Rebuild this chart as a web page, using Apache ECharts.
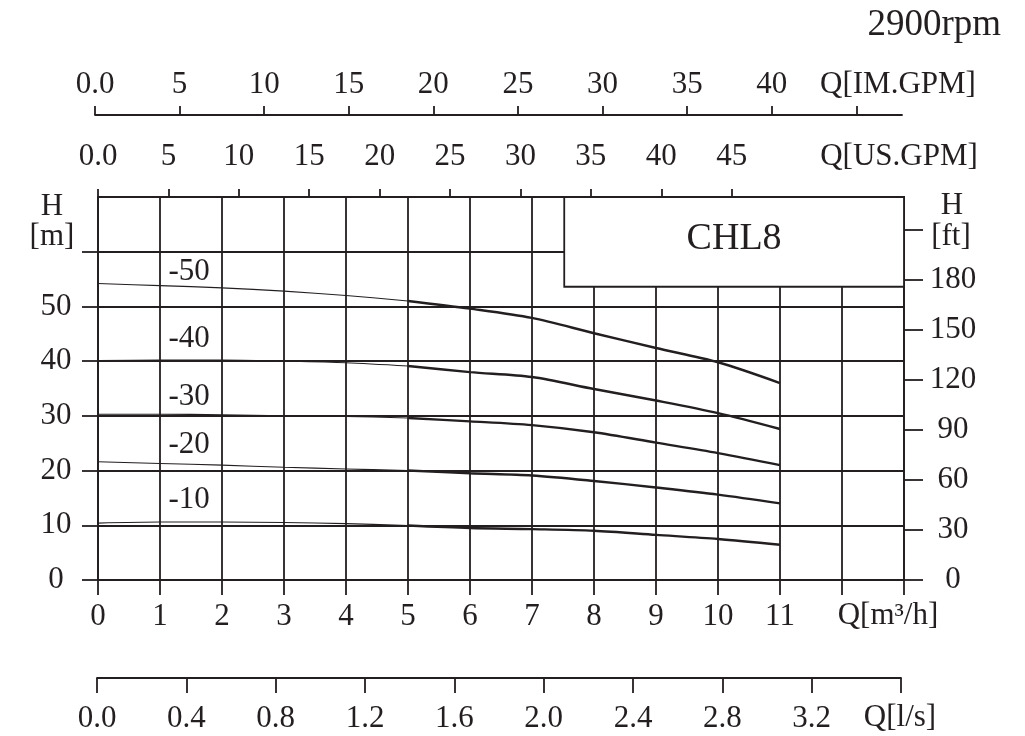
<!DOCTYPE html>
<html><head><meta charset="utf-8">
<script src="https://cdn.jsdelivr.net/npm/echarts@6/dist/echarts.min.js"></script>
<style>html,body{margin:0;padding:0;background:#fff}#c{width:1025px;height:736px}</style>
</head><body><div id="c"></div>
<script>
// ---- data ----
const flow = [0, 1, 2, 3, 4, 5, 6, 7, 8, 9, 10, 11];
const h50 = [54.2, 53.8, 53.4, 52.8, 52.0, 51.0, 49.6, 47.9, 45.1, 42.4, 39.8, 36.0];
const h40 = [40.1, 40.2, 40.2, 40.0, 39.7, 39.1, 38.0, 37.1, 34.9, 32.8, 30.5, 27.6];
const h30 = [30.3, 30.3, 30.2, 30.0, 29.9, 29.6, 29.0, 28.3, 27.0, 25.1, 23.2, 21.0];
const h20 = [21.6, 21.3, 21.0, 20.6, 20.3, 20.0, 19.5, 19.1, 18.1, 16.9, 15.6, 14.0];
const h10 = [10.4, 10.6, 10.6, 10.5, 10.3, 9.95, 9.5, 9.3, 9.0, 8.25, 7.5, 6.45];
const curveNames = ['-50', '-40', '-30', '-20', '-10'];
const curveLabelAt = [[1.47, 56.4], [1.47, 44.1], [1.47, 33.5], [1.47, 24.7], [1.47, 14.6]];
const splitIdx = 5;

const mLabels = [0, 1, 2, 3, 4, 5, 6, 7, 8, 9, 10, 11];
const mTicks = [0, 1, 2, 3, 4, 5, 6, 7, 8, 9, 10, 11, 12, 13];
const hLabels = [0, 10, 20, 30, 40, 50];
const hTicks = [0, 10, 20, 30, 40, 50, 60];
const ftLabels = [0, 30, 60, 90, 120, 150, 180];
const ftTicks = [0, 30, 60, 90, 120, 150, 180, 210];
const usLabels = [0, 5, 10, 15, 20, 25, 30, 35, 40, 45];
const usTicks = [0, 5, 10, 15, 20, 25, 30, 35, 40, 45];
const imLabels = [0, 5, 10, 15, 20, 25, 30, 35, 40];
const imTicks = [0, 5, 10, 15, 20, 25, 30, 35, 40, 45];
const lsLabels = [0, 0.4, 0.8, 1.2, 1.6, 2.0, 2.4, 2.8, 3.2];
const lsTicks = [0, 0.4, 0.8, 1.2, 1.6, 2.0, 2.4, 2.8, 3.2, 3.6];
const modelName = 'CHL8';
const modelBox = [[7.52, 53.6], [13, 70]];
const speedText = '2900rpm';

// ---- style ----
const INK = '#231f20';
const FF = '"Liberation Serif", "Times New Roman", serif';
const FS = 31;
const LW = 1.8;
const M_TO_FT = 3.28084, M3H_TO_USGPM = 4.40287;
const X_MAX = 13, H_MAX = 70;

const heads = [h50, h40, h30, h20, h10];
const series = [];
heads.forEach((h, i) => {
  const pts = flow.map((q, k) => [q, h[k]]);
  series.push({type: 'line', xAxisIndex: 0, yAxisIndex: 0, data: pts.slice(0, splitIdx + 1),
    smooth: 0.3, symbol: 'none', lineStyle: {color: INK, width: 1.1}, silent: true, z: 3});
  series.push({type: 'line', xAxisIndex: 0, yAxisIndex: 0, data: pts.slice(splitIdx),
    smooth: 0.3, symbol: 'none', lineStyle: {color: INK, width: 2.4}, silent: true, z: 3});
});
series.push({type: 'scatter', xAxisIndex: 0, yAxisIndex: 0, symbolSize: 0, silent: true,
  itemStyle: {opacity: 1, color: INK},
  data: curveLabelAt.map((p, i) => ({value: p, name: curveNames[i]})),
  label: {show: true, position: 'inside', formatter: '{b}', color: INK, opacity: 1, fontSize: FS, fontFamily: FF},
  markArea: {silent: true, itemStyle: {color: '#fff', opacity: 1, borderColor: INK, borderWidth: LW},
    label: {show: true, position: 'inside', formatter: modelName, color: INK, fontSize: 38, fontFamily: FF, offset: [0, -3]},
    data: [[{coord: modelBox[0]}, {coord: modelBox[1]}]]},
  z: 4});
series.push({type: 'scatter', xAxisIndex: 2, yAxisIndex: 2, data: []});
series.push({type: 'scatter', xAxisIndex: 3, yAxisIndex: 3, data: []});

const lineS = {show: true, onZero: false, lineStyle: {color: INK, width: LW}};
const splitS = {show: true, lineStyle: {color: INK, width: LW}};
const tickS = (custom, len) => ({show: true, customValues: custom, length: len, lineStyle: {color: INK, width: LW}});
const lbl = (custom, extra) => Object.assign({show: true, customValues: custom, color: INK, fontSize: FS, fontFamily: FF}, extra);
const zeroFmt = v => (v === 0 ? '0.0' : String(v));

const txt = (t, x, y, size, align) => ({type: 'text', silent: true, style: {text: t, x: x, y: y, fill: INK,
  fontSize: size || FS, fontFamily: FF, align: align || 'center', verticalAlign: 'middle'}});

const option = {
  backgroundColor: '#fff',
  animation: false,
  grid: [
    {left: 98, right: 121, top: 197, bottom: 156},
    {left: 95, right: 123, top: 115, height: 20},
    {left: 97, right: 124, top: 658, height: 20}
  ],
  xAxis: [
    {gridIndex: 0, type: 'value', position: 'bottom', min: 0, max: X_MAX, interval: 1,
      axisLine: lineS, splitLine: splitS, axisTick: tickS(mTicks, 15),
      axisLabel: lbl(mLabels, {margin: 37, verticalAlign: 'middle'})},
    {gridIndex: 0, type: 'value', position: 'top', min: 0, max: X_MAX * M3H_TO_USGPM, interval: 5,
      axisLine: lineS, splitLine: {show: false}, axisTick: tickS(usTicks, 8),
      axisLabel: lbl(usLabels, {margin: 40, verticalAlign: 'middle', formatter: zeroFmt})},
    {gridIndex: 1, type: 'value', position: 'top', min: 0, max: 47.7, interval: 5,
      axisLine: lineS, splitLine: {show: false}, axisTick: tickS(imTicks, 9),
      axisLabel: lbl(imLabels, {margin: 30, verticalAlign: 'middle', formatter: zeroFmt})},
    {gridIndex: 2, type: 'value', position: 'bottom', min: 0, max: 3.6, interval: 0.4,
      axisLine: lineS, splitLine: {show: false}, axisTick: tickS(lsTicks, 15),
      axisLabel: lbl(lsLabels, {margin: 41, verticalAlign: 'middle', formatter: v => v.toFixed(1)})}
  ],
  yAxis: [
    {gridIndex: 0, type: 'value', position: 'left', min: 0, max: H_MAX, interval: 10,
      axisLine: lineS, splitLine: splitS, axisTick: tickS(hTicks, 16),
      axisLabel: lbl(hLabels, {margin: 42, align: 'center'})},
    {gridIndex: 0, type: 'value', position: 'right', min: 0, max: H_MAX * M_TO_FT, interval: 30,
      axisLine: lineS, splitLine: {show: false}, axisTick: tickS(ftTicks, 19),
      axisLabel: lbl(ftLabels, {margin: 49, align: 'center'})},
    {gridIndex: 1, type: 'value', show: false, min: 0, max: 1},
    {gridIndex: 2, type: 'value', show: false, min: 0, max: 1}
  ],
  graphic: [
    txt(speedText, 1001, 25, 37, 'right'),
    txt('H', 52, 207),
    txt('[m]', 52, 237),
    txt('H', 952, 206),
    txt('[ft]', 951, 237),
    txt('Q[IM.GPM]', 898, 85),
    txt('Q[US.GPM]', 899, 157),
    txt('Q[m\u00b3/h]', 888, 616),
    txt('Q[l/s]', 900, 718)
  ],
  series: series
};
const chart = echarts.init(document.getElementById('c'));
chart.setOption(option);
</script></body></html>
